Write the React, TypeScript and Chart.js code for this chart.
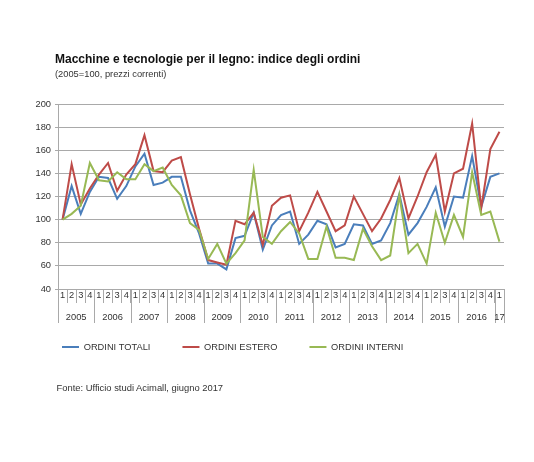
import React, { useEffect, useRef } from 'react';
import { Chart, registerables } from 'chart.js';

Chart.register(...registerables);

// trimestri 2005 Q1 - 2017 Q1
const quarters = [
    '1', '2', '3', '4', '1', '2', '3', '4', '1', '2', '3', '4',
    '1', '2', '3', '4', '1', '2', '3', '4', '1', '2', '3', '4',
    '1', '2', '3', '4', '1', '2', '3', '4', '1', '2', '3', '4',
    '1', '2', '3', '4', '1', '2', '3', '4', '1', '2', '3', '4',
    '1',
];
const years = ['2005', '2006', '2007', '2008', '2009', '2010', '2011', '2012', '2013', '2014', '2015', '2016', '17'];

const ordiniTotali = [
    100, 129, 105, 124,
    137, 136, 118, 129,
    146, 157, 130, 132,
    137, 137, 108, 88,
    62, 62, 57, 84,
    86, 106, 74, 95,
    104, 107, 79, 87,
    99, 96, 76, 79,
    96, 95, 79, 82,
    97, 122, 87, 97,
    111, 128, 94, 120,
    119, 155, 111, 137,
    140,
];
const ordiniEstero = [
    100, 148, 113, 127,
    139, 149, 125, 139,
    148, 173, 142, 141,
    151, 154, 122, 92,
    65, 63, 61, 99,
    96, 106, 78, 112,
    119, 121, 90, 106,
    124, 107, 90, 95,
    120, 105, 90, 101,
    117, 136, 101, 120,
    141, 156, 107, 140,
    144, 183, 110, 161,
    176,
];
const ordiniInterni = [
    100, 105, 112, 149,
    134, 133, 141, 135,
    135, 148, 142, 145,
    130, 121, 97, 91,
    66, 79, 62, 71,
    82, 143, 85, 79,
    90, 98, 88, 66,
    66, 94, 67, 67,
    65, 92, 77, 65,
    69, 121, 71, 79,
    62, 106, 80, 104,
    85, 141, 104, 107,
    81,
];

const yMin = 40;
const yMax = 200;
const yStep = 20;

const FONT = "'Liberation Sans', Arial, sans-serif";
const GRID = '#a9a9a9';
const TEXT = '#333';

// year row under the quarter numbers, with the long separators
const yearAxis = {
    id: 'yearAxis',
    afterDraw(chart: any) {
        const { ctx, chartArea, scales } = chart;
        const x = scales.x;
        const slot = x.getPixelForValue(1) - x.getPixelForValue(0);
        const starts = quarters.map((q, i) => (q === '1' ? i : -1)).filter((i) => i >= 0);
        const top = chartArea.bottom;
        ctx.save();
        ctx.strokeStyle = GRID;
        ctx.lineWidth = 1;
        ctx.fillStyle = TEXT;
        ctx.font = `9.3px ${FONT}`;
        ctx.textAlign = 'center';
        ctx.textBaseline = 'middle';
        const vline = (px: number) => {
            const p = Math.round(px) + 0.5;
            ctx.beginPath();
            ctx.moveTo(p, top);
            ctx.lineTo(p, top + 34);
            ctx.stroke();
        };
        years.forEach((year, k) => {
            const first = starts[k];
            const last = (k + 1 < starts.length ? starts[k + 1] : quarters.length) - 1;
            vline(x.getPixelForValue(first) - slot / 2);
            if (k === years.length - 1) vline(x.getPixelForValue(last) + slot / 2);
            const cx = (x.getPixelForValue(first) + x.getPixelForValue(last)) / 2;
            ctx.fillText(year, cx, top + 28);
        });
        ctx.restore();
    },
};

const OrdiniChart: React.FC = () => {
    const chartContainer = useRef<HTMLCanvasElement>(null);

    useEffect(() => {
        if (!chartContainer.current) return;
        const ctx = chartContainer.current.getContext('2d');
        if (!ctx) return;

        const tickFont = { family: FONT, size: 9.3 };

        const chart = new Chart(ctx, {
            type: 'line',
            data: {
                labels: quarters,
                datasets: [
                    { label: 'ORDINI TOTALI', data: ordiniTotali, borderColor: '#4a7ebb', backgroundColor: '#4a7ebb', borderWidth: 2, order: 3 },
                    { label: 'ORDINI ESTERO', data: ordiniEstero, borderColor: '#be4b48', backgroundColor: '#be4b48', borderWidth: 2, order: 2 },
                    { label: 'ORDINI INTERNI', data: ordiniInterni, borderColor: '#98b954', backgroundColor: '#98b954', borderWidth: 2, order: 1 },
                ],
            },
            options: {
                responsive: false,
                animation: false,
                layout: { padding: { left: 30, right: 30, top: 104, bottom: 100.35 } },
                elements: {
                    line: { borderWidth: 2, tension: 0 },
                    point: { radius: 0, hoverRadius: 0 },
                },
                scales: {
                    x: {
                        offset: true,
                        grid: { offset: true, drawOnChartArea: false, tickLength: 14, color: GRID },
                        border: { display: true, color: GRID },
                        ticks: { autoSkip: false, maxRotation: 0, minRotation: 0, padding: -13.6, font: tickFont, color: TEXT },
                        afterFit: (s: any) => { s.height = 21.35; },
                    },
                    y: {
                        min: yMin,
                        max: yMax,
                        ticks: { stepSize: yStep, font: tickFont, color: TEXT, padding: 4 },
                        grid: { color: GRID, tickLength: 3 },
                        border: { display: true, color: GRID },
                        afterFit: (s: any) => { s.width = 28; },
                    },
                },
                plugins: {
                    legend: {
                        position: 'bottom',
                        align: 'start',
                        labels: {
                            usePointStyle: true,
                            pointStyle: 'line',
                            pointStyleWidth: 17,
                            padding: 32,
                            font: tickFont,
                            color: TEXT,
                            sort: (a: any, b: any) => a.datasetIndex - b.datasetIndex,
                        },
                    },
                    tooltip: { enabled: false },
                },
            },
            plugins: [yearAxis],
        });

        return () => {
            chart.destroy();
        };
    }, []);

    return <canvas ref={chartContainer} width={534} height={462} style={{ width: 534, height: 462 }}></canvas>;
};

const App: React.FC = () => {
    const text = { position: 'absolute' as const, left: 55, fontFamily: FONT, whiteSpace: 'nowrap' as const, lineHeight: 1 };
    return (
        <div style={{ position: 'absolute', left: 0, top: 0, width: 534, height: 462, background: '#fff' }}>
            <OrdiniChart />
            <div style={{ ...text, top: 53.4, fontSize: 12, fontWeight: 'bold', color: '#111' }}>
                Macchine e tecnologie per il legno: indice degli ordini
            </div>
            <div style={{ ...text, top: 69.6, fontSize: 9.3, color: TEXT }}>(2005=100, prezzi correnti)</div>
            <div style={{ ...text, top: 383, left: 56.5, fontSize: 9.4, color: TEXT }}>Fonte: Ufficio studi Acimall, giugno 2017</div>
        </div>
    );
};

export default App;
